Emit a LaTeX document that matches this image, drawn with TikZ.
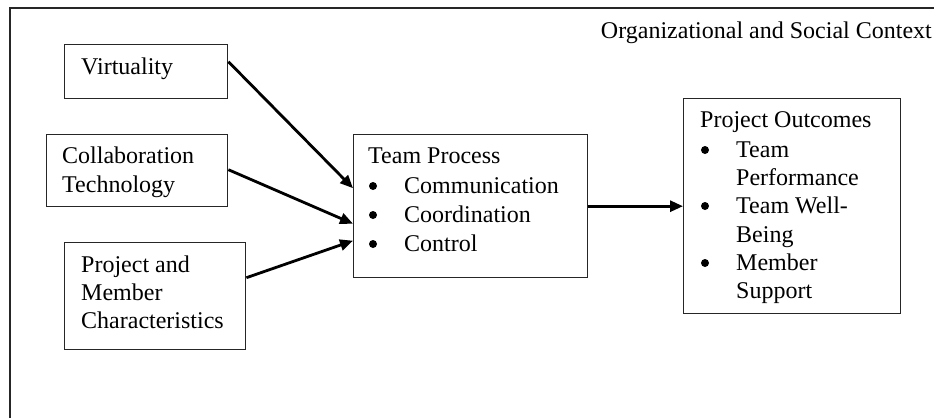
\documentclass[tikz,border=0pt]{standalone}
\usepackage{fontspec}
\setmainfont{Liberation Serif}
\usetikzlibrary{arrows.meta}
\begin{document}
\begin{tikzpicture}[x=1pt,y=-1pt,
  box/.style={draw=black!85,line width=1.4pt,inner sep=0pt,anchor=north west},
  txt/.style={anchor=base west,inner sep=0pt,font=\fontsize{24}{29}\selectfont},
  dot/.style={circle,fill=black,inner sep=0pt,minimum size=8pt},
  flow/.style={line width=2.8pt,-{Triangle[length=13pt,width=11pt]}}]
\useasboundingbox (0,0) rectangle (934,418);
% enclosing context frame (open to the right and bottom)
\draw[line width=1.4pt,black!85] (10,418) -- (10,8) -- (934,8);
\node[txt,anchor=base east] (ctx) at (932,38) {Organizational and Social Context};

% input factors
\node[box,minimum width=163pt,minimum height=54pt] (virt) at (64,44) {};
\node[txt] (virtT) at (81,74) {Virtuality};

\node[box,minimum width=181pt,minimum height=72pt] (coll) at (46,134) {};
\node[txt] (collA) at (62,163) {Collaboration};
\node[txt] (collB) at (62,192) {Technology};

\node[box,minimum width=181pt,minimum height=107pt] (proj) at (64,242) {};
\node[txt] (projA) at (81,272) {Project and};
\node[txt] (projB) at (81,300) {Member};
\node[txt] (projC) at (81,328) {Characteristics};

% team process
\node[box,minimum width=234pt,minimum height=143pt] (tp) at (353,134) {};
\node[txt] (tpT) at (368,163) {Team Process};
\node[dot] (tpB1) at (373,186) {};
\node[txt] (tp1) at (404,193) {Communication};
\node[dot] (tpB2) at (373,215) {};
\node[txt] (tp2) at (404,222) {Coordination};
\node[dot] (tpB3) at (373,244) {};
\node[txt] (tp3) at (404,251) {Control};

% outcomes
\node[box,minimum width=217pt,minimum height=215pt] (out) at (683,98) {};
\node[txt] (outT) at (700,127) {Project Outcomes};
\node[dot] (outB1) at (705,150) {};
\node[txt] (out1a) at (736,157) {Team};
\node[txt] (out1b) at (736,185) {Performance};
\node[dot] (outB2) at (705,206) {};
\node[txt] (out2a) at (736,213) {Team Well-};
\node[txt] (out2b) at (736,242) {Being};
\node[dot] (outB3) at (705,263) {};
\node[txt] (out3a) at (736,270) {Member};
\node[txt] (out3b) at (736,298) {Support};

% connectors
\draw[flow] ([yshift=10pt]virt.east) -- ([yshift=18pt]tp.west);
\draw[flow] ([yshift=1pt]coll.east) -- ([yshift=-17.5pt]tp.west);
\draw[flow] ([yshift=18.5pt]proj.east) -- ([yshift=-34.5pt]tp.west);
\draw[flow] (tp.east) -- (out.west);
\end{tikzpicture}
\end{document}
